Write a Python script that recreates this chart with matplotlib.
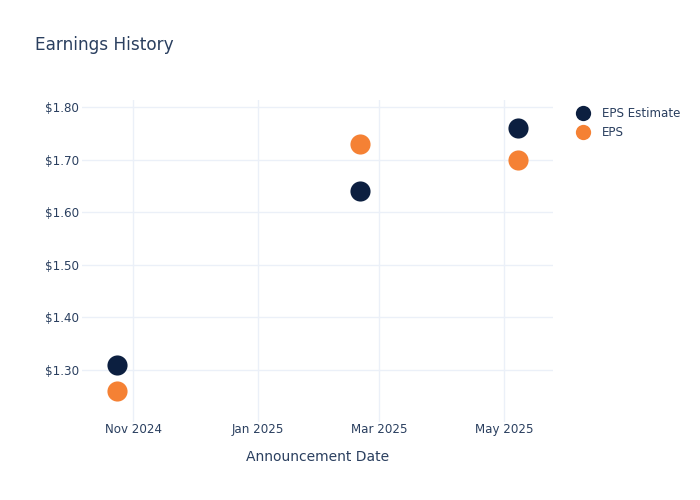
import matplotlib
matplotlib.use("Agg")
import matplotlib.pyplot as plt
import matplotlib.dates as mdates
from matplotlib.lines import Line2D
import pandas as pd

# data
announce_dates = pd.to_datetime(["2024-10-24", "2025-02-20", "2025-05-08"])
eps_estimate = [1.31, 1.64, 1.76]
eps_actual = [1.26, 1.73, 1.70]
series_names = ["EPS Estimate", "EPS"]
x_ticks = pd.to_datetime(["2024-11-01", "2025-01-01", "2025-03-01", "2025-05-01"])
y_ticks = [1.30, 1.40, 1.50, 1.60, 1.70, 1.80]

navy = "#0c1f40"
orange = "#f58134"
text_col = "#2a3f5f"
grid_col = "#ebf0f8"

fig = plt.figure(figsize=(7, 5), dpi=100)
ax = fig.add_axes([0.117, 0.156, 0.673, 0.644])

ax.scatter(announce_dates, eps_estimate, s=210, color=navy, zorder=3, linewidths=0)
ax.scatter(announce_dates, eps_actual, s=210, color=orange, zorder=3, linewidths=0)

ax.set_xlim(pd.Timestamp("2024-10-07"), pd.Timestamp("2025-05-25"))
ax.set_ylim(1.201, 1.814)
ax.set_xticks(x_ticks)
ax.xaxis.set_major_formatter(mdates.DateFormatter("%b %Y"))
ax.set_yticks(y_ticks)
ax.set_yticklabels([f"${v:.2f}" for v in y_ticks])

ax.grid(True, color=grid_col, linewidth=1)
ax.set_axisbelow(True)
for sp in ax.spines.values():
    sp.set_visible(False)
ax.tick_params(length=0, labelsize=8.6, colors=text_col)
ax.tick_params(axis="x", pad=1)
ax.tick_params(axis="y", pad=2)

ax.set_xlabel("Announcement Date", fontsize=10, color=text_col, labelpad=10)

fig.text(0.05, 0.911, "Earnings History", fontsize=12.2, color=text_col, va="center")

handles = [
    Line2D([], [], marker="o", linestyle="", markersize=11, color=navy, markeredgewidth=0),
    Line2D([], [], marker="o", linestyle="", markersize=11, color=orange, markeredgewidth=0),
]
leg = fig.legend(handles, series_names, loc="upper left", bbox_to_anchor=(0.816, 0.795),
                 frameon=False, fontsize=8.6, handletextpad=1.0, labelspacing=0.5,
                 borderaxespad=0, handlelength=1.2)
for t in leg.get_texts():
    t.set_color(text_col)

fig.savefig("out.png", dpi=100)
